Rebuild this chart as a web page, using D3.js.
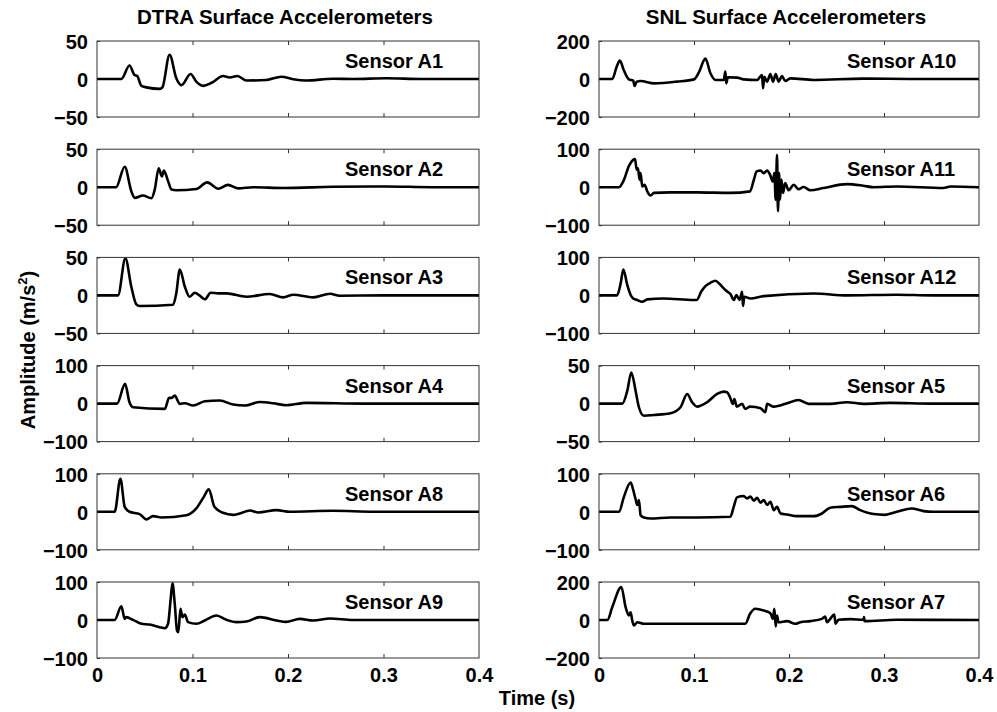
<!DOCTYPE html>
<html lang="en">
<head>
  <meta charset="UTF-8">
  <title>Surface Accelerometers</title>
  <script src="https://d3js.org/d3.v7.min.js"></script>
  <style>
    body {
      margin: 0;
      background-color: #ffffff;
    }
    svg text {
      font-family: "Liberation Sans", Arial, Helvetica, sans-serif;
      font-weight: bold;
      fill: #000;
    }
    .axis path { display: none; }
    .axis line { stroke: #333; stroke-width: 1; }
  </style>
</head>
<body>

<div id="chart"></div>

<script>
  // Data: [time (s), amplitude (m/s^2)]
  var timeTicks = [0, 0.1, 0.2, 0.3, 0.4];
  var columnTitles = ["DTRA Surface Accelerometers", "SNL Surface Accelerometers"];
  var leftSensors = ["A1", "A2", "A3", "A4", "A8", "A9"];
  var rightSensors = ["A10", "A11", "A12", "A5", "A6", "A7"];
  var leftLimits = [50, 50, 50, 100, 100, 100];
  var rightLimits = [200, 100, 100, 50, 100, 200];

  var a1 = [[0,0],[0.0255,0],[0.034,17.7],[0.0395,5],[0.042,4],[0.0465,-9],[0.0517,-11],[0.0657,-13],[0.0685,-11],
    [0.076,32],[0.083,1],[0.0884,-8],[0.098,6.6],[0.104,-3.5],[0.111,-9],[0.12,-5],[0.132,4],[0.139,2],[0.147,4],
    [0.1565,-2],[0.1775,-1.3],[0.193,3],[0.2055,-0.4],[0.219,-2],[0.247,0.4],[0.268,0],[0.303,1],[0.34,0],[0.4,0]];
  var a2 = [[0,0],[0.020,0],[0.029,27],[0.036,-5.6],[0.0395,-14],[0.048,-11],[0.057,-14.6],[0.0605,-3],[0.0646,25],
    [0.068,14],[0.070,22],[0.0744,8],[0.078,-3],[0.083,-4],[0.104,-2.4],[0.1153,6.3],[0.127,-2],[0.137,3],[0.148,-1.5],
    [0.1635,0],[0.195,-1],[0.247,0.5],[0.303,1],[0.35,0],[0.4,0]];
  var a3 = [[0,0],[0.022,0],[0.0297,48.7],[0.036,11],[0.041,-11.4],[0.0447,-14],[0.0797,-12.3],[0.083,2.6],[0.0867,34],
    [0.092,11.4],[0.097,-1.8],[0.1024,3.5],[0.1076,-0.4],[0.113,-5],[0.119,3.5],[0.127,2.6],[0.1356,2.6],[0.1565,-1.8],
    [0.181,1.8],[0.195,-2.6],[0.2055,0.9],[0.2264,-2.6],[0.244,2.2],[0.254,-0.4],[0.30,0],[0.4,0]];
  var a4 = [[0,0],[0.021,0],[0.0294,52],[0.034,3.5],[0.0377,-9.6],[0.071,-14],[0.0755,15],[0.078,15],[0.0814,21],
    [0.0867,-1],[0.092,1],[0.1006,-5],[0.113,6],[0.1286,8],[0.1426,-2.6],[0.155,-5],[0.1705,4.4],[0.1845,1],
    [0.198,-4.4],[0.219,1.8],[0.28,0],[0.4,0]];
  var a8 = [[0,0],[0.0185,0],[0.0245,87],[0.029,13],[0.034,0],[0.0447,-6],[0.0517,-20],[0.0587,-11.5],[0.0674,-15],
    [0.0936,-9],[0.104,9],[0.112,40],[0.117,59],[0.123,13],[0.132,-2.6],[0.1425,-8],[0.1495,-4.4],[0.16,3.5],
    [0.1688,-1.8],[0.188,4.4],[0.202,0],[0.247,2.6],[0.29,0],[0.4,0]];
  var a9 = [[0,0],[0.0185,0],[0.0255,36],[0.029,3],[0.0307,7.5],[0.0377,0.4],[0.0465,-10],[0.055,-12],[0.0657,-19],
    [0.071,-21.6],[0.0744,-10],[0.077,51],[0.079,97],[0.0814,43],[0.0838,-28],[0.0852,-32],[0.0874,29.5],[0.0895,7.5],
    [0.092,14.5],[0.0954,-5.7],[0.104,-10],[0.1128,-1.3],[0.125,12],[0.1356,0.4],[0.146,-5.7],[0.1565,-4],[0.1705,7.5],
    [0.188,-1.3],[0.198,-5],[0.2124,3],[0.2264,-1.3],[0.244,4],[0.268,0],[0.4,0]];

  var a10 = [[0,0],[0.014,0],[0.0186,65],[0.022,97],[0.026,47.6],[0.0315,-2],[0.036,-9],[0.0375,-37],[0.0396,-14],
    [0.0438,-10.6],[0.058,-23],[0.082,-14],[0.100,-2],[0.105,33.5],[0.112,107],[0.1173,30],[0.1226,-5],[0.1313,-5],
    [0.133,39],[0.134,-23],[0.1356,9],[0.1454,7],[0.1524,-2],[0.1664,-5],[0.1716,21],[0.1727,-49],[0.174,12],
    [0.1769,-14],[0.1804,26],[0.1832,-14],[0.186,26],[0.1891,-14],[0.1926,16],[0.196,-10.6],[0.2014,3.5],[0.226,-5],
    [0.278,2],[0.33,0],[0.4,0]];
  var a11 = [[0,0],[0.021,0],[0.0263,19.6],[0.0315,56],[0.036,72],[0.038,74],[0.0396,46],[0.041,50],[0.0427,19.6],
    [0.0438,37],[0.0455,2],[0.048,6.5],[0.0508,-11],[0.0543,-22],[0.0578,-15],[0.0753,-13.5],[0.1033,-13.5],
    [0.1383,-15],[0.159,-11],[0.163,19.6],[0.166,41.5],[0.17,44],[0.1734,37],[0.177,44],[0.180,33],[0.183,15],
    [0.1846,37],[0.186,-33],[0.1874,85],[0.1884,-63],[0.1895,37],[0.1905,-33],[0.192,20],[0.1937,-15],[0.196,11],
    [0.1996,-8],[0.205,6.5],[0.210,-5],[0.2154,0.4],[0.2224,-8],[0.2364,-2],[0.261,8],[0.278,4],[0.289,0],[0.3135,2],
    [0.3625,-2],[0.37,2],[0.4,0]];
  var a12 = [[0,0],[0.019,0],[0.0228,31.6],[0.0256,68],[0.0298,27],[0.0333,1],[0.036,-8],[0.040,-12],[0.0455,-16.7],
    [0.0508,-10.5],[0.068,-8],[0.0998,-12],[0.103,-12],[0.1075,9.6],[0.112,24.5],[0.1173,33],[0.1226,38.6],[0.127,30],
    [0.133,14],[0.1383,3.5],[0.142,-12],[0.1446,1],[0.148,-12],[0.1506,9.6],[0.1516,-28],[0.153,-3.5],[0.1594,-8],
    [0.1734,-1.8],[0.226,5],[0.261,0],[0.3135,1.8],[0.35,0],[0.4,0]];
  var a5 = [[0,0],[0.0245,0],[0.0298,17],[0.034,41],[0.0385,17],[0.042,-4.8],[0.0473,-16],[0.0578,-15],[0.0753,-12.7],
    [0.0858,-4.8],[0.0928,12.7],[0.098,1.8],[0.1033,-4],[0.1138,1.8],[0.1243,12.7],[0.1313,15.8],[0.1348,15],
    [0.138,8],[0.141,-0.4],[0.1425,6],[0.145,-4],[0.1506,-0.4],[0.154,-7],[0.159,-4],[0.170,-6],[0.175,-11.4],
    [0.177,-0.4],[0.184,-4],[0.198,0.4],[0.210,4.8],[0.2207,-0.4],[0.2434,-0.4],[0.261,1.8],[0.2785,-0.4],
    [0.3065,0.9],[0.35,0],[0.4,0]];
  var a6 = [[0,0],[0.021,0],[0.0263,40],[0.0333,77],[0.036,57.5],[0.0385,33],[0.0403,17.7],[0.042,31],[0.0438,-9],
    [0.0473,-15],[0.0543,-17.7],[0.0753,-15],[0.1033,-15],[0.1383,-13],[0.1418,13],[0.1453,38],[0.1524,41.6],
    [0.1558,35],[0.1594,40],[0.163,29],[0.1664,37],[0.170,24],[0.1734,31],[0.177,17.7],[0.1804,26.5],[0.184,4.4],
    [0.1874,13],[0.191,-4.4],[0.198,-7],[0.2084,-11.5],[0.226,-11.5],[0.2347,-4.4],[0.2434,10.6],[0.254,13],
    [0.266,15],[0.275,4.4],[0.289,-6],[0.301,-8],[0.3135,0],[0.329,8.8],[0.3415,1.8],[0.352,0],[0.4,0]];
  var a7 = [[0,0],[0.0088,0],[0.014,68],[0.0235,174],[0.028,68],[0.0315,24],[0.0333,41],[0.035,-2.6],[0.0368,-29],
    [0.0403,-11.5],[0.0473,-20],[0.1033,-20],[0.154,-20],[0.159,32.6],[0.1646,59],[0.1734,50],[0.1804,36],
    [0.183,6],[0.1846,59],[0.186,-34],[0.1874,24],[0.189,-11.5],[0.198,-6],[0.2066,-20],[0.212,-11.5],[0.2224,-6],
    [0.2347,6],[0.238,18.5],[0.24,-11.5],[0.2434,6],[0.2476,29],[0.249,-20],[0.252,1],[0.2645,4.4],[0.2785,1],
    [0.279,15],[0.2795,-6],[0.3135,1],[0.4,0]];

  var traces = { A1: a1, A2: a2, A3: a3, A4: a4, A8: a8, A9: a9,
                 A10: a10, A11: a11, A12: a12, A5: a5, A6: a6, A7: a7 };

  var width = 997, height = 712;
  var svg = d3.select("#chart").append("svg")
    .attr("width", width)
    .attr("height", height);

  var columns = [
    { left: 97, right: 479, title: columnTitles[0], sensors: leftSensors, limits: leftLimits },
    { left: 599, right: 979, title: columnTitles[1], sensors: rightSensors, limits: rightLimits }
  ];
  var firstTop = 41, rowStep = 108.2, panelH = 76;

  var fmt = function(d) { return d < 0 ? "\u2212" + Math.abs(d) : String(d); };

  columns.forEach(function(col, ci) {
    var x = d3.scaleLinear().domain([0, 0.4]).range([col.left, col.right]);

    svg.append("text")
      .attr("x", (col.left + col.right) / 2 - 3)
      .attr("y", 24)
      .attr("text-anchor", "middle")
      .style("font-size", "20.5px")
      .text(col.title);

    col.sensors.forEach(function(name, ri) {
      var top = firstTop + ri * rowStep;
      var lim = col.limits[ri];
      var y = d3.scaleLinear().domain([-lim, lim]).range([top + panelH, top]);
      var g = svg.append("g");
      var clipId = "clip-" + ci + "-" + ri;

      g.append("clipPath").attr("id", clipId)
        .append("rect")
        .attr("x", col.left).attr("y", top)
        .attr("width", col.right - col.left).attr("height", panelH);

      // inward ticks on all four sides
      g.append("g").attr("class", "axis")
        .attr("transform", "translate(0," + (top + panelH) + ")")
        .call(d3.axisBottom(x).tickValues([0.1, 0.2, 0.3]).tickSize(-4).tickFormat(""));
      g.append("g").attr("class", "axis")
        .attr("transform", "translate(0," + top + ")")
        .call(d3.axisTop(x).tickValues([0.1, 0.2, 0.3]).tickSize(-4).tickFormat(""));
      g.append("g").attr("class", "axis")
        .attr("transform", "translate(" + col.right + ",0)")
        .call(d3.axisRight(y).tickValues([0]).tickSize(-3).tickFormat(""));

      var yAxis = g.append("g").attr("class", "axis")
        .attr("transform", "translate(" + col.left + ",0)")
        .call(d3.axisLeft(y).tickValues([-lim, 0, lim]).tickSize(-3).tickPadding(9).tickFormat(fmt));
      yAxis.selectAll("text").style("font-size", "20px").attr("dy", "0.36em");

      if (ri === col.sensors.length - 1) {
        var xAxis = g.append("g").attr("class", "axis")
          .attr("transform", "translate(0," + (top + panelH) + ")")
          .call(d3.axisBottom(x).tickValues(timeTicks).tickSize(0).tickPadding(10).tickFormat(d3.format("")));
        xAxis.selectAll("text").style("font-size", "20px");
      }

      g.append("path")
        .datum(traces[name])
        .attr("clip-path", "url(#" + clipId + ")")
        .attr("fill", "none")
        .attr("stroke", "#000")
        .attr("stroke-width", 2.6)
        .attr("stroke-linejoin", "round")
        .attr("d", d3.line()
          .x(function(d) { return x(d[0]); })
          .y(function(d) { return y(d[1]); })
          .curve(d3.curveMonotoneX));

      g.append("rect")
        .attr("x", col.left).attr("y", top)
        .attr("width", col.right - col.left).attr("height", panelH)
        .attr("fill", "none")
        .attr("stroke", "#333")
        .attr("stroke-width", 1);

      g.append("text")
        .attr("x", col.left + 248)
        .attr("y", top + 27)
        .style("font-size", "20px")
        .text("Sensor " + name);
    });
  });

  svg.append("text")
    .attr("transform", "translate(35,350) rotate(-90)")
    .attr("text-anchor", "middle")
    .style("font-size", "20px")
    .text("Amplitude (m/s")
    .append("tspan").attr("dy", -8).style("font-size", "13px").text("2")
    .select(function() { return this.parentNode; })
    .append("tspan").attr("dy", 8).text(")");

  svg.append("text")
    .attr("x", 537)
    .attr("y", 705)
    .attr("text-anchor", "middle")
    .style("font-size", "20px")
    .text("Time (s)");
</script>

</body>
</html>
